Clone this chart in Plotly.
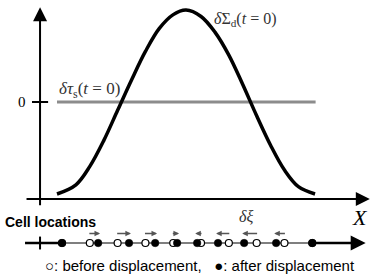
import plotly.graph_objects as go

# ---- data (X in cell-spacing units, Y in perturbation units) ----
curve_x = [-0.18, 0.5, 1.0, 1.5, 2.0, 2.5, 3.0, 3.5, 4.0, 4.46, 5.0, 5.5, 6.0, 6.5, 7.0, 7.5, 8.0, 8.5, 9.1]
curve_y = [-1.0, -0.90, -0.70, -0.42, -0.09, 0.24, 0.55, 0.80, 0.95, 1.0, 0.93, 0.76, 0.51, 0.19, -0.15, -0.47, -0.74, -0.92, -1.0]
tau_x = [-0.18, 9.12]
tau_y = [0.0, 0.0]
cells_before = [0, 1, 2, 3, 4, 5, 6, 7, 8, 9]
cells_after = [0.0, 1.30, 2.41, 3.35, 4.14, 4.86, 5.61, 6.55, 7.70, 9.0]
row_y = -1.533
arrow_y = -1.43
y_tick_vals = [0]
y_tick_text = ["0"]

serif = "Liberation Serif"
sans = "Liberation Sans"

fig = go.Figure()

# cell row line segments
fig.add_trace(go.Scatter(x=[-1.33, cells_before[0]], y=[row_y, row_y], mode="lines",
                         line=dict(color="black", width=2.5), hoverinfo="skip", showlegend=False))
fig.add_trace(go.Scatter(x=[cells_before[0], cells_before[-1]], y=[row_y, row_y], mode="lines",
                         line=dict(color="black", width=1.2), hoverinfo="skip", showlegend=False))

# curves
fig.add_trace(go.Scatter(x=tau_x, y=tau_y, mode="lines",
                         line=dict(color="#8c8c8c", width=3.2), hoverinfo="skip", showlegend=False))
fig.add_trace(go.Scatter(x=curve_x, y=curve_y, mode="lines", line_shape="spline",
                         line=dict(color="black", width=3.5), hoverinfo="skip", showlegend=False))

# cells
fig.add_trace(go.Scatter(x=cells_before, y=[row_y] * len(cells_before), mode="markers",
                         marker=dict(size=7, color="white", line=dict(color="black", width=1.2)),
                         hoverinfo="skip", showlegend=False))
fig.add_trace(go.Scatter(x=cells_after, y=[row_y] * len(cells_after), mode="markers",
                         marker=dict(size=7.5, color="black", line=dict(color="black", width=0.5)),
                         hoverinfo="skip", showlegend=False))

ann = []
# y axis arrow
ann.append(dict(x=-0.79, y=1.03, ax=-0.79, ay=-1.14, xref="x", yref="y", axref="x", ayref="y",
                text="", showarrow=True, arrowhead=2, arrowsize=1.4, arrowwidth=2, arrowcolor="black"))
# x axis arrow
ann.append(dict(x=11.07, y=-1.054, ax=-1.33, ay=-1.054, xref="x", yref="y", axref="x", ayref="y",
                text="", showarrow=True, arrowhead=2, arrowsize=1.4, arrowwidth=2, arrowcolor="black"))
# cell row arrow (thick right part)
ann.append(dict(x=10.92, y=row_y, ax=cells_before[-1], ay=row_y, xref="x", yref="y", axref="x", ayref="y",
                text="", showarrow=True, arrowhead=2, arrowsize=1.2, arrowwidth=2.5, arrowcolor="black"))
# displacement arrows (slightly longer than the displacement itself)
pad = 0.07
for b, a in zip(cells_before, cells_after):
    if abs(a - b) > 0.05:
        s = 1 if a > b else -1
        ann.append(dict(x=a + s * pad, y=arrow_y, ax=b - s * pad, ay=arrow_y, xref="x", yref="y",
                        axref="x", ayref="y", text="", showarrow=True, arrowhead=2, arrowsize=0.75,
                        arrowwidth=1.5, arrowcolor="#555555"))

# texts
ann.append(dict(x=-0.18, y=0.13, xref="x", yref="y", xanchor="left", yanchor="middle", showarrow=False,
                text="<i>δτ</i><sub>s</sub>(<i>t</i> = 0)", font=dict(family=serif, size=17, color="#333")))
ann.append(dict(x=5.40, y=0.90, xref="x", yref="y", xanchor="left", yanchor="middle", showarrow=False,
                text="<i>δ</i>Σ<sub>d</sub>(<i>t</i> = 0)", font=dict(family=serif, size=16, color="#333")))
ann.append(dict(x=10.72, y=-1.26, xref="x", yref="y", xanchor="center", yanchor="middle", showarrow=False,
                text="<i>X</i>", font=dict(family=serif, size=22, color="black")))
ann.append(dict(x=6.62, y=-1.25, xref="x", yref="y", xanchor="center", yanchor="middle", showarrow=False,
                text="<i>δξ</i>", font=dict(family=serif, size=16, color="#333")))
ann.append(dict(x=3 / 374, y=-1.30, xref="paper", yref="y", xanchor="left", yanchor="middle", showarrow=False,
                text="<b>Cell locations</b>", font=dict(family=sans, size=14, color="black")))
ann.append(dict(x=200 / 374, y=-1.775, xref="paper", yref="y", xanchor="center", yanchor="middle", showarrow=False,
                text="○: before displacement,   ●: after displacement",
                font=dict(family=sans, size=15, color="black")))

# y tick
fig.add_shape(type="line", x0=-1.08, x1=-0.5, y0=y_tick_vals[0], y1=y_tick_vals[0], xref="x", yref="y",
              line=dict(color="black", width=2))
ann.append(dict(x=-1.43, y=y_tick_vals[0], xref="x", yref="y", xanchor="center", yanchor="middle",
                showarrow=False, text=y_tick_text[0], font=dict(family=serif, size=15, color="black")))
# row tick
fig.add_shape(type="line", x0=-0.79, x1=-0.79, y0=row_y + 0.07, y1=row_y - 0.07, xref="x", yref="y",
              line=dict(color="black", width=2))

fig.update_layout(
    width=374, height=280, margin=dict(l=0, r=0, t=0, b=0),
    paper_bgcolor="white", plot_bgcolor="white",
    xaxis=dict(range=[-2.23, 11.22], visible=False, fixedrange=True),
    yaxis=dict(range=[-1.935, 1.109], visible=False, fixedrange=True),
    annotations=ann, showlegend=False,
)

fig.write_html("out.html", config={"displayModeBar": False},
               post_script="document.body.style.margin='0';document.body.style.padding='0';")
